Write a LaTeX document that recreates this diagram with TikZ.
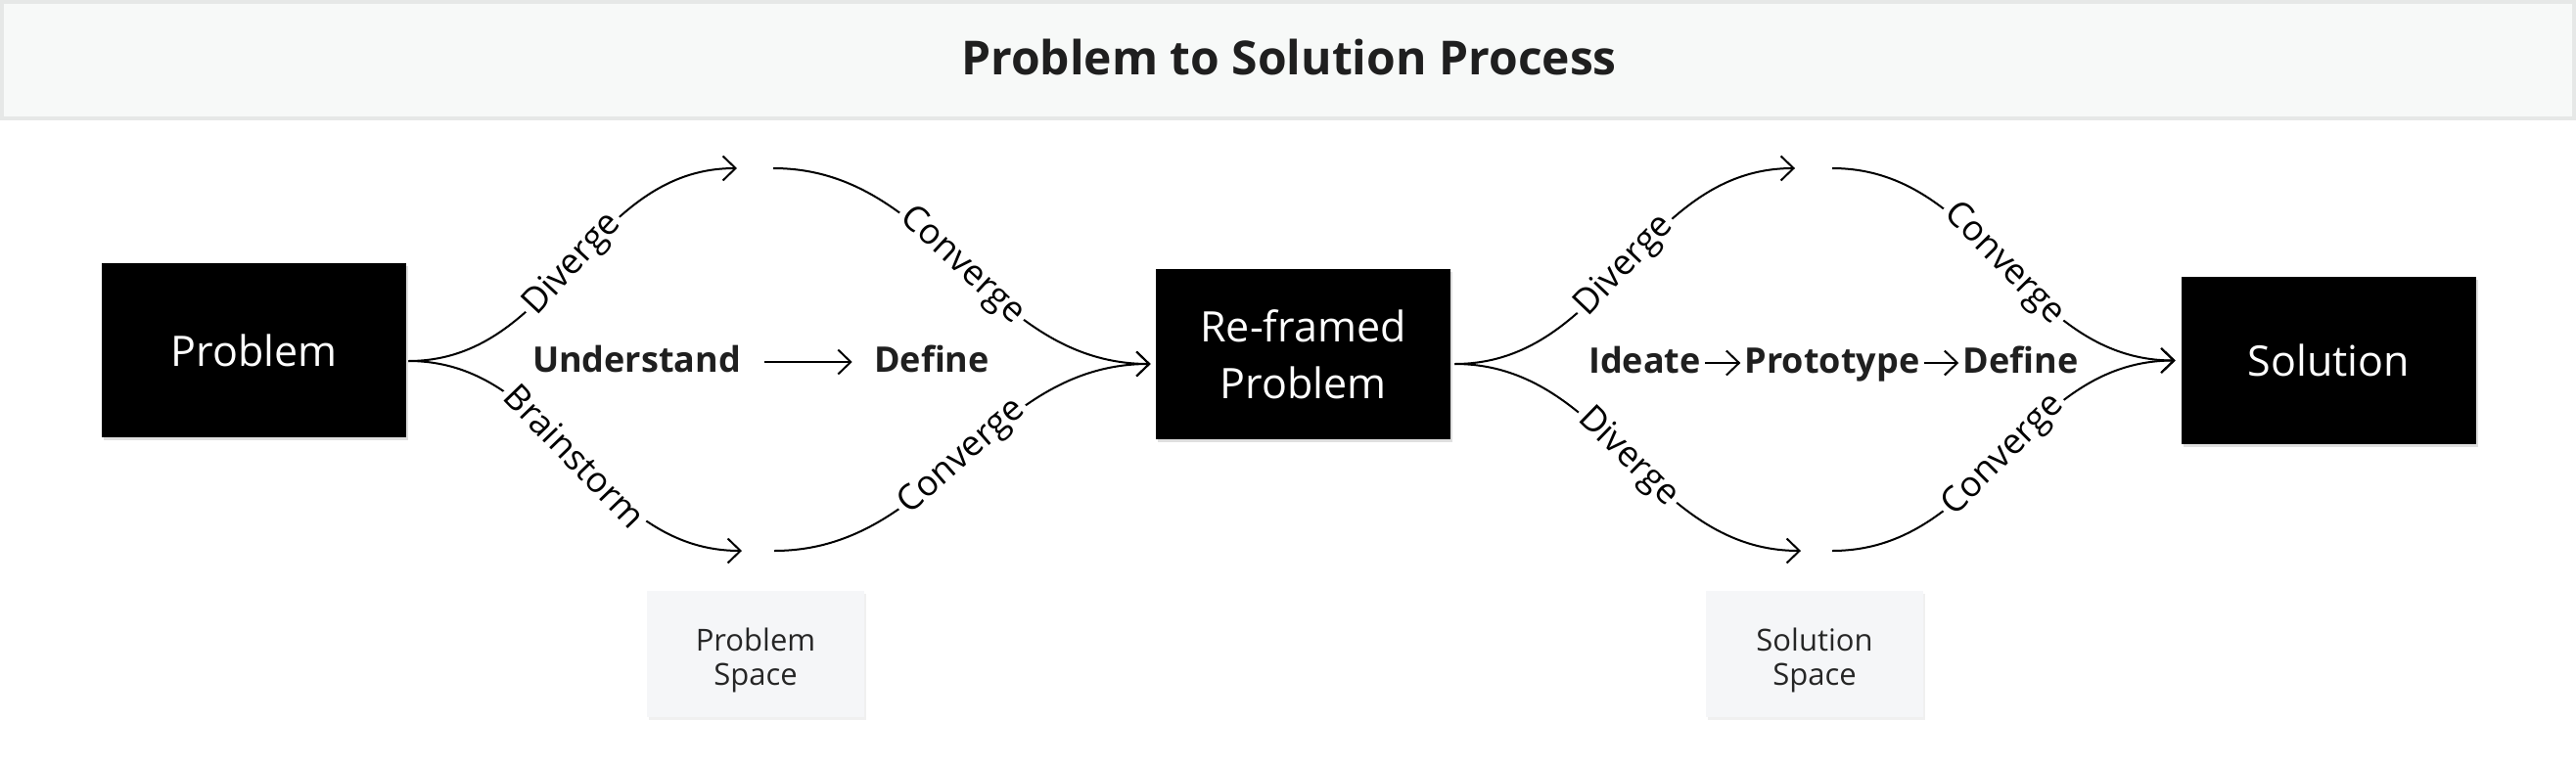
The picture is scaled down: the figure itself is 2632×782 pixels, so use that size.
\documentclass[tikz,border=0pt]{standalone}
\usepackage{fontspec}
\setmainfont{Open Sans}
\usetikzlibrary{arrows.meta,shadows}

\definecolor{bandeau}{HTML}{F7F9F8}
\definecolor{bordbandeau}{HTML}{E6E8E7}
\definecolor{fondespace}{HTML}{F5F6F8}

\tikzset{
	boite/.style={fill=black, text=white, font=\fontsize{21.5}{29}\selectfont, align=center, inner sep=0pt,
		drop shadow={shadow xshift=1pt, shadow yshift=-1.5pt, opacity=.25}},
	espace/.style={fill=fondespace, text=black!85, font=\fontsize{15.5}{17.5}\selectfont, align=center,
		minimum width=111pt, minimum height=64.5pt, inner sep=0pt,
		drop shadow={shadow xshift=1pt, shadow yshift=-1.5pt, opacity=.12}},
	etape/.style={font=\bfseries\fontsize{18}{22}\selectfont, text=black!88, anchor=base,
		text height=10pt, text depth=0pt, inner ysep=0pt},
	fleche/.style={-{Straight Barb[length=6.5pt, width=12.5pt]}, line width=1pt},
	lab/.style={midway, sloped, fill=white, inner sep=2pt, font=\fontsize{18}{22}\selectfont},
}

\begin{document}
\begin{tikzpicture}[x=0.5pt, y=-0.5pt]

	\useasboundingbox (0,0) rectangle (2632,782);

	% bandeau du titre
	\draw[bordbandeau, fill=bandeau, line width=2pt] (2,2) rectangle (2630,121);
	\node[font=\bfseries\fontsize{24}{30}\selectfont, text=black!88] (titre) at (1317,58) {Problem to Solution Process};

	\node[boite, minimum width=155.5pt, minimum height=89pt] (pb) at (259.5,358) {Problem};
	\node[boite, minimum width=150.5pt, minimum height=87pt] (rpb) at (1331.5,362) {Re-framed\\Problem};
	\node[boite, minimum width=150.5pt, minimum height=85.5pt] (sol) at (2379.5,368.5) {Solution};

	\node[espace] (pbsp) at (772,668.5) {\rule{0pt}{18.5pt}Problem\\Space};
	\node[espace] (solsp) at (1854,668.5) {\rule{0pt}{18.5pt}Solution\\Space};

	% bouts libres des courbes
	\coordinate (dh1) at (753,172);
	\coordinate (db1) at (758,563);
	\coordinate (ch1) at (790,172);
	\coordinate (cb1) at (791,563);
	\coordinate (dh2) at (1834,172);
	\coordinate (db2) at (1840,563);
	\coordinate (ch2) at (1872,172);
	\coordinate (cb2) at (1872,563);

	% espace probleme
	\draw[fleche] ([xshift=1pt, yshift=-5.5pt]pb.east) to[out=0, in=180] node[lab] {Diverge} (dh1);
	\draw[fleche] ([xshift=1pt, yshift=-5.5pt]pb.east) to[out=0, in=180] node[lab] {Brainstorm} (db1);
	\draw[fleche] (ch1) to[out=0, in=180] node[lab] {Converge} ([xshift=-2.5pt, yshift=-5pt]rpb.west);
	\draw[fleche] (cb1) to[out=0, in=180] node[lab] {Converge} ([xshift=-2.5pt, yshift=-5pt]rpb.west);

	\node[etape, inner xsep=12pt] (und) at (650.5,380) {Understand};
	\node[etape, inner xsep=11pt] (defa) at (952,380) {Define};
	\draw[fleche] (und) -- (defa);

	% espace solution
	\draw[fleche] ([xshift=2pt, yshift=-5pt]rpb.east) to[out=0, in=180] node[lab] {Diverge} (dh2);
	\draw[fleche] ([xshift=2pt, yshift=-5pt]rpb.east) to[out=0, in=180] node[lab] {Diverge} (db2);
	\draw[fleche] (ch2) to[out=0, in=180] node[lab] {Converge} ([xshift=-3pt]sol.west);
	\draw[fleche] (cb2) to[out=0, in=180] node[lab] {Converge} ([xshift=-3pt]sol.west);

	\node[etape, inner xsep=2pt] (idea) at (1680.5,381) {Ideate};
	\node[etape, inner xsep=2pt] (proto) at (1872,381) {Prototype};
	\node[etape, inner xsep=2pt] (defb) at (2064.5,381) {Define};
	\draw[fleche] (idea) -- (proto);
	\draw[fleche] (proto) -- (defb);

\end{tikzpicture}
\end{document}
